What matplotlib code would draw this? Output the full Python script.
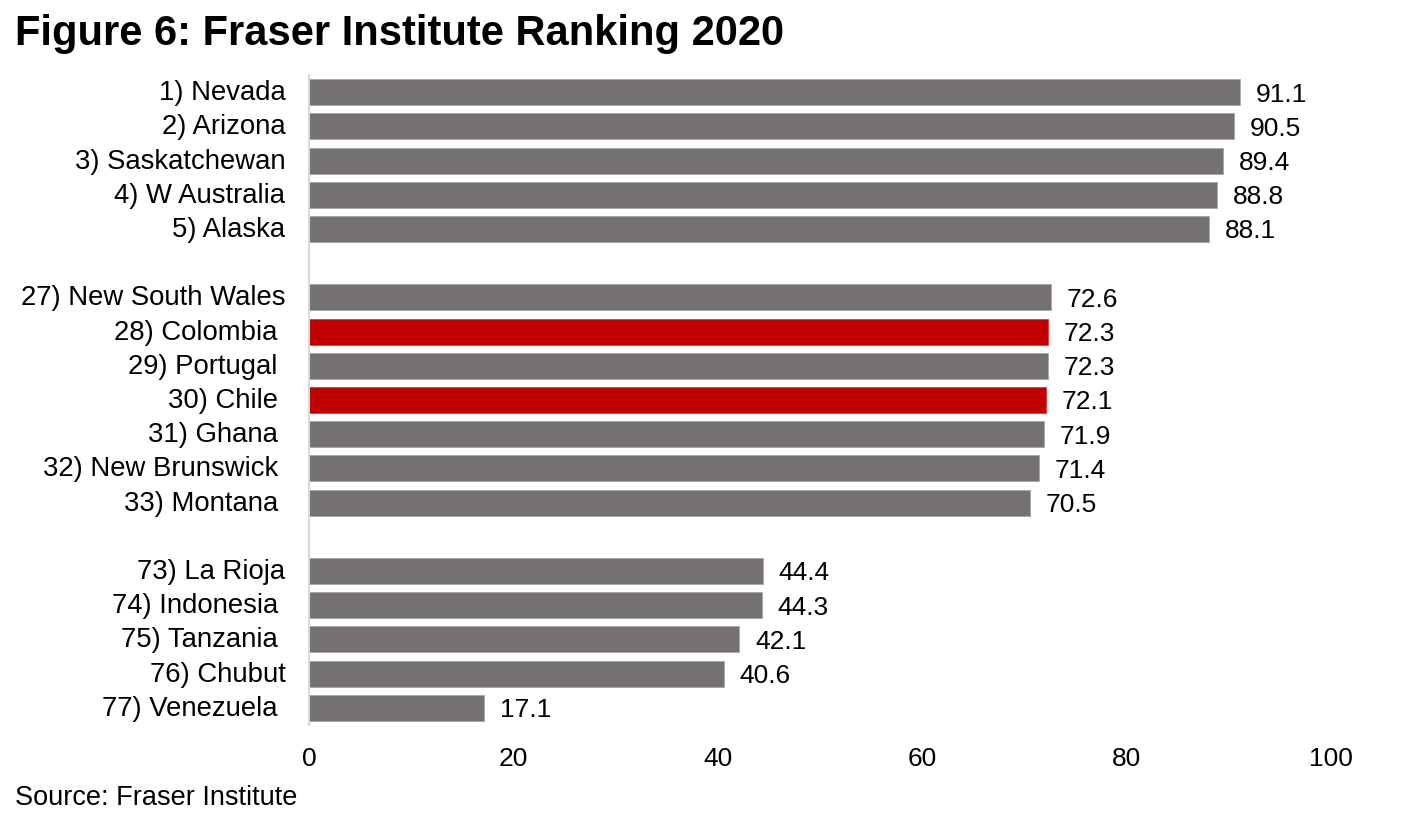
import matplotlib
matplotlib.use("Agg")
import matplotlib.pyplot as plt
from matplotlib.transforms import ScaledTranslation

categories = ["1) Nevada", "2) Arizona", "3) Saskatchewan", "4) W Australia", "5) Alaska", "",
              "27) New South Wales", "28) Colombia ", "29) Portugal ", "30) Chile ", "31) Ghana ",
              "32) New Brunswick ", "33) Montana ", "",
              "73) La Rioja", "74) Indonesia ", "75) Tanzania ", "76) Chubut", "77) Venezuela "]
values = [91.1, 90.5, 89.4, 88.8, 88.1, None,
          72.6, 72.3, 72.3, 72.1, 71.9, 71.4, 70.5, None,
          44.4, 44.3, 42.1, 40.6, 17.1]
highlight = ["28) Colombia ", "30) Chile "]
x_ticks = [0, 20, 40, 60, 80, 100]

GREY = "#767171"
RED = "#C00000"
plt.rcParams['font.family'] = ['Liberation Sans', 'DejaVu Sans']

fig = plt.figure(figsize=(14.01, 8.35), dpi=100)
ax = fig.add_axes([309/1401, 1-725/835, (1331-309)/1401, (725-75)/835])

for i, (c, v) in enumerate(zip(categories, values)):
    if v is None:
        continue
    col = RED if c in highlight else GREY
    ax.barh(i, v, height=0.76, color=col, edgecolor="#A6A6A6" if col == GREY else "#D04040", linewidth=0.6)
    ax.text(v + 1.55, i + 0.07, f"{v:.1f}", va="center", ha="left", fontsize=19, color="black")

ax.set_ylim(len(categories) - 0.5, -0.5)
ax.set_xlim(0, 100)
ax.set_yticks(range(len(categories)))
ax.set_yticklabels(categories, fontsize=19.8)
ax.set_xticks(x_ticks)
ax.set_xticklabels([str(t) for t in x_ticks], fontsize=19)
ax.tick_params(axis="y", length=0, pad=17)
ax.tick_params(axis="x", length=0, pad=16)
off = ScaledTranslation(0, 2/100, fig.dpi_scale_trans)
for lab in ax.get_yticklabels():
    lab.set_transform(lab.get_transform() + off)
for s in ["top", "right", "bottom"]:
    ax.spines[s].set_visible(False)
ax.spines["left"].set_color("#D9D9D9")
ax.spines["left"].set_linewidth(1.5)

fig.text(15/1401, 1-34/835, "Figure 6: Fraser Institute Ranking 2020", fontsize=30, fontweight="bold",
         va="center", ha="left")
fig.text(15/1401, 1-798/835, "Source: Fraser Institute", fontsize=19.5, va="center", ha="left")

fig.savefig("out.png", dpi=100)
